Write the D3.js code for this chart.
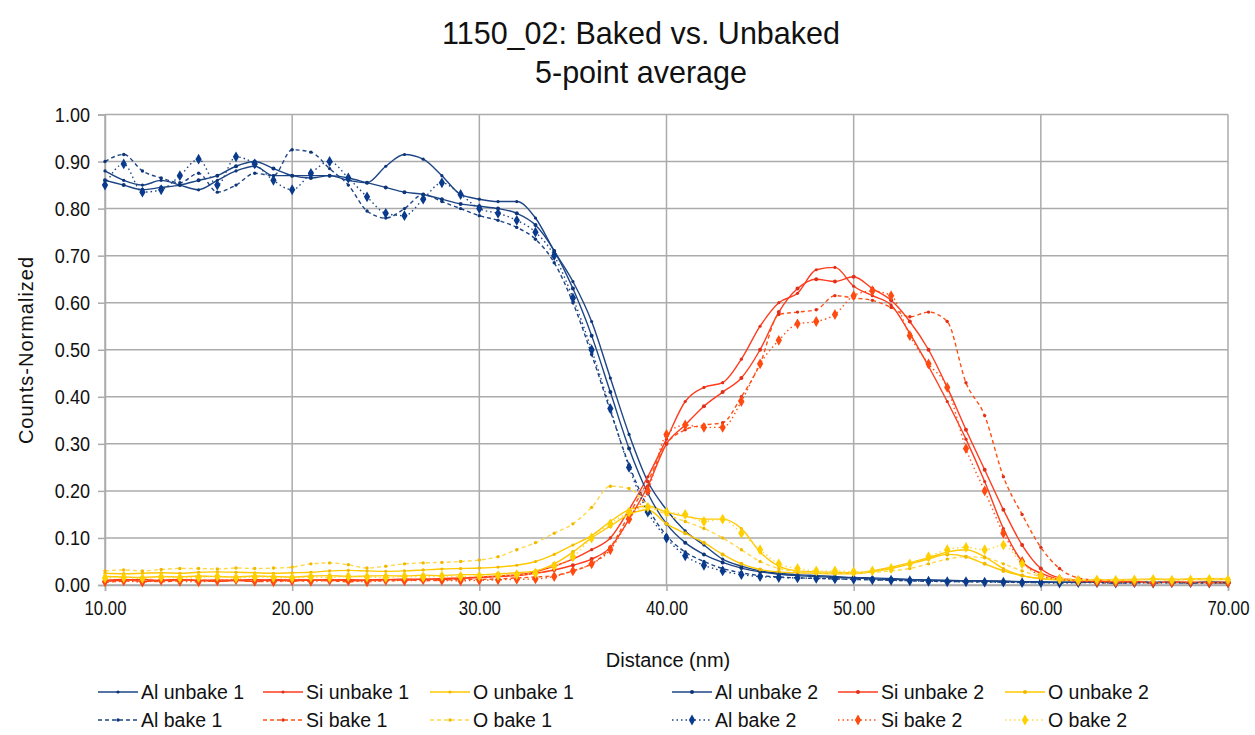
<!DOCTYPE html>
<html><head><meta charset="utf-8">
<script src="https://cdn.jsdelivr.net/npm/d3@7"></script>
<style>
body{margin:0;background:#fff}
text{font-family:"Liberation Sans",Arial,sans-serif;fill:#111}
</style>
</head><body>
<svg id="c" width="1255" height="735"></svg>
<script>
// ---------- DATA ----------
const distance = [10,11,12,13,14,15,16,17,18,19,20,21,22,23,24,25,26,27,28,29,30,31,32,33,34,35,36,37,38,39,40,41,42,43,44,45,46,47,48,49,50,51,52,53,54,55,56,57,58,59,60,61,62,63,64,65,66,67,68,69,70];

const alUnbake1 = [0.88,0.86,0.85,0.86,0.85,0.84,0.86,0.88,0.89,0.87,
  0.87,0.87,0.87,0.86,0.855,0.89,0.915,0.905,0.87,0.83,
  0.82,0.815,0.815,0.78,0.71,0.645,0.56,0.44,0.32,0.22,
  0.16,0.115,0.085,0.055,0.04,0.03,0.025,0.022,0.02,0.018,
  0.016,0.015,0.014,0.012,0.011,0.01,0.009,0.009,0.008,0.007,
  0.007,0.006,0.006,0.006,0.005,0.006,0.005,0.006,0.005,0.006,0.005];
const alUnbake2 = [0.86,0.85,0.84,0.845,0.85,0.86,0.87,0.89,0.90,0.885,
  0.87,0.865,0.87,0.865,0.855,0.845,0.835,0.83,0.82,0.81,
  0.805,0.80,0.79,0.765,0.71,0.63,0.53,0.41,0.29,0.195,
  0.13,0.09,0.065,0.048,0.036,0.028,0.023,0.02,0.018,0.016,
  0.015,0.013,0.012,0.011,0.01,0.009,0.009,0.008,0.008,0.007,
  0.006,0.006,0.005,0.006,0.005,0.005,0.006,0.005,0.005,0.006,0.005];
const alBake1 = [0.90,0.915,0.88,0.865,0.855,0.875,0.835,0.85,0.875,0.87,
  0.925,0.92,0.885,0.85,0.795,0.78,0.80,0.83,0.815,0.80,
  0.785,0.775,0.76,0.735,0.685,0.60,0.49,0.37,0.255,0.165,
  0.105,0.07,0.05,0.035,0.026,0.02,0.017,0.015,0.014,0.013,
  0.012,0.011,0.01,0.009,0.008,0.008,0.007,0.007,0.006,0.006,
  0.005,0.005,0.006,0.005,0.004,0.005,0.006,0.005,0.004,0.005,0.005];
const alBake2 = [0.85,0.895,0.835,0.84,0.87,0.905,0.85,0.91,0.895,0.86,
  0.84,0.875,0.90,0.865,0.825,0.79,0.785,0.82,0.855,0.83,
  0.80,0.79,0.775,0.75,0.70,0.61,0.50,0.375,0.25,0.155,
  0.10,0.062,0.042,0.03,0.022,0.018,0.016,0.015,0.014,0.013,
  0.012,0.011,0.01,0.009,0.008,0.007,0.007,0.006,0.006,0.005,
  0.005,0.004,0.005,0.005,0.004,0.005,0.004,0.005,0.005,0.004,0.005];

const siUnbake1 = [0.01,0.012,0.008,0.01,0.012,0.009,0.011,0.01,0.008,0.012,
  0.01,0.011,0.009,0.012,0.01,0.011,0.013,0.012,0.014,0.015,
  0.017,0.019,0.022,0.028,0.04,0.055,0.075,0.10,0.16,0.23,
  0.31,0.39,0.42,0.43,0.48,0.55,0.60,0.62,0.67,0.675,
  0.635,0.615,0.595,0.535,0.465,0.39,0.31,0.22,0.12,0.05,
  0.025,0.012,0.008,0.007,0.006,0.006,0.005,0.006,0.005,0.006,0.005];
const siUnbake2 = [0.008,0.01,0.012,0.009,0.011,0.01,0.008,0.01,0.012,0.009,
  0.011,0.01,0.012,0.009,0.011,0.012,0.01,0.013,0.012,0.014,
  0.016,0.018,0.02,0.025,0.032,0.042,0.055,0.08,0.14,0.21,
  0.30,0.34,0.38,0.41,0.44,0.50,0.58,0.63,0.65,0.645,
  0.655,0.63,0.605,0.56,0.50,0.42,0.33,0.245,0.16,0.085,
  0.035,0.015,0.01,0.008,0.006,0.007,0.005,0.006,0.006,0.005,0.006];
const siBake1 = [0.006,0.008,0.01,0.007,0.009,0.011,0.008,0.01,0.007,0.009,
  0.008,0.01,0.009,0.007,0.01,0.008,0.011,0.009,0.01,0.012,
  0.012,0.013,0.015,0.017,0.02,0.03,0.045,0.08,0.15,0.22,
  0.30,0.33,0.34,0.345,0.40,0.47,0.575,0.58,0.585,0.615,
  0.61,0.605,0.59,0.57,0.58,0.56,0.43,0.36,0.23,0.15,
  0.08,0.035,0.015,0.01,0.007,0.006,0.005,0.006,0.005,0.005,0.006];
const siBake2 = [0.007,0.009,0.006,0.01,0.008,0.007,0.009,0.011,0.008,0.007,
  0.009,0.008,0.01,0.009,0.007,0.01,0.009,0.011,0.01,0.009,
  0.01,0.011,0.012,0.013,0.018,0.03,0.045,0.075,0.14,0.20,
  0.32,0.34,0.335,0.335,0.39,0.47,0.52,0.555,0.56,0.575,
  0.615,0.625,0.615,0.53,0.47,0.42,0.29,0.20,0.11,0.05,
  0.02,0.012,0.008,0.006,0.005,0.006,0.005,0.005,0.006,0.005,0.005];

const oUnbake1 = [0.025,0.024,0.025,0.026,0.025,0.027,0.028,0.027,0.026,0.025,
  0.026,0.027,0.03,0.031,0.03,0.029,0.03,0.032,0.034,0.035,
  0.036,0.038,0.042,0.05,0.065,0.085,0.105,0.135,0.16,0.168,
  0.155,0.146,0.14,0.14,0.12,0.07,0.04,0.03,0.028,0.027,
  0.026,0.03,0.038,0.047,0.058,0.07,0.075,0.06,0.035,0.02,
  0.014,0.012,0.011,0.012,0.011,0.012,0.013,0.012,0.013,0.014,0.013];
const oUnbake2 = [0.018,0.017,0.016,0.018,0.017,0.019,0.018,0.017,0.019,0.018,
  0.017,0.019,0.02,0.018,0.019,0.02,0.019,0.021,0.02,0.022,
  0.022,0.024,0.026,0.03,0.045,0.07,0.10,0.125,0.15,0.16,
  0.13,0.11,0.09,0.065,0.045,0.033,0.028,0.026,0.025,0.024,
  0.024,0.028,0.035,0.045,0.055,0.065,0.06,0.045,0.03,0.02,
  0.013,0.011,0.01,0.011,0.01,0.011,0.012,0.011,0.012,0.011,0.012];
const oBake1 = [0.03,0.032,0.03,0.033,0.035,0.035,0.034,0.036,0.035,0.036,
  0.038,0.045,0.047,0.043,0.036,0.04,0.045,0.047,0.048,0.05,
  0.053,0.06,0.075,0.09,0.11,0.13,0.165,0.21,0.205,0.17,
  0.15,0.135,0.12,0.10,0.075,0.05,0.035,0.028,0.026,0.025,
  0.025,0.027,0.03,0.035,0.045,0.055,0.06,0.058,0.045,0.03,
  0.018,0.014,0.012,0.011,0.012,0.011,0.012,0.013,0.012,0.013,0.014];
const oBake2 = [0.015,0.016,0.014,0.017,0.015,0.016,0.018,0.015,0.017,0.016,
  0.015,0.017,0.016,0.018,0.017,0.016,0.018,0.017,0.019,0.018,
  0.019,0.02,0.022,0.025,0.04,0.06,0.10,0.13,0.155,0.165,
  0.155,0.15,0.135,0.14,0.11,0.075,0.045,0.035,0.03,0.03,
  0.028,0.03,0.035,0.045,0.06,0.075,0.08,0.075,0.085,0.045,
  0.02,0.012,0.01,0.011,0.01,0.011,0.012,0.01,0.011,0.012,0.011];

const xTicks = [10,20,30,40,50,60,70];
const yTicks = [0,0.1,0.2,0.3,0.4,0.5,0.6,0.7,0.8,0.9,1.0];
const titleLines = ["1150_02: Baked vs. Unbaked", "5-point average"];

// ---------- STYLE ----------
const C = {
  al: "#1d4585", alMark: "#0d3578", alDia: "#0a3a8c",
  si: "#ff3c1e", siMark: "#e0301a", siBake: "#ff5014", siDia: "#ff4a10",
  o: "#ffc800", oMark: "#f0b800", oBake: "#ffd84a", oDia: "#ffd000"
};
const series = [
  {name:"Al unbake 1", v:alUnbake1, stroke:C.al, dash:null, marker:"dot", mc:C.alMark, r:1.6},
  {name:"Si unbake 1", v:siUnbake1, stroke:C.si, dash:null, marker:"dot", mc:C.siMark, r:1.6},
  {name:"O unbake 1",  v:oUnbake1,  stroke:C.o,  dash:null, marker:"dot", mc:C.oMark, r:1.6},
  {name:"Al unbake 2", v:alUnbake2, stroke:C.al, dash:null, marker:"dot", mc:C.alMark, r:2.0},
  {name:"Si unbake 2", v:siUnbake2, stroke:C.si, dash:null, marker:"dot", mc:C.siMark, r:2.0},
  {name:"O unbake 2",  v:oUnbake2,  stroke:C.o,  dash:null, marker:"dot", mc:C.oMark, r:2.0},
  {name:"Al bake 1",   v:alBake1,   stroke:C.al, dash:"4,3", marker:"dot", mc:C.alMark, r:1.7},
  {name:"Si bake 1",   v:siBake1,   stroke:C.siBake, dash:"4,3", marker:"dot", mc:C.siMark, r:1.7},
  {name:"O bake 1",    v:oBake1,    stroke:C.oBake, dash:"4,3", marker:"dot", mc:C.oMark, r:1.7},
  {name:"Al bake 2",   v:alBake2,   stroke:C.al, dash:"1.5,3", marker:"diamond", mc:C.alDia, r:0},
  {name:"Si bake 2",   v:siBake2,   stroke:C.siBake, dash:"1.5,3", marker:"diamond", mc:C.siDia, r:0},
  {name:"O bake 2",    v:oBake2,    stroke:C.oBake, dash:"1.5,3", marker:"diamond", mc:C.oDia, r:0}
];

// ---------- CHART ----------
const svg = d3.select("#c");
const x = d3.scaleLinear().domain([10,70]).range([105,1228]);
const y = d3.scaleLinear().domain([0,1]).range([585,114.5]);
const grid = "#ababab";

// title
svg.selectAll("text.title").data(titleLines).join("text")
  .attr("x", 641).attr("y", (d,i)=> 44 + i*39)
  .attr("text-anchor","middle").attr("font-size", 30.5).text(d=>d);

// gridlines
svg.append("g").selectAll("line").data(yTicks).join("line")
  .attr("x1", x(10)).attr("x2", x(70)).attr("y1", d=>y(d)).attr("y2", d=>y(d))
  .attr("stroke", grid).attr("stroke-width", 1.5);
svg.append("g").selectAll("line").data(xTicks).join("line")
  .attr("x1", d=>x(d)).attr("x2", d=>x(d)).attr("y1", y(0)).attr("y2", y(1))
  .attr("stroke", grid).attr("stroke-width", 1.5);

// axes
const yAxis = svg.append("g").attr("transform", `translate(${x(10)},0)`)
  .call(d3.axisLeft(y).tickValues(yTicks).tickFormat(d3.format(".2f")).tickSize(7).tickPadding(8));
const xAxis = svg.append("g").attr("transform", `translate(0,${y(0)})`)
  .call(d3.axisBottom(x).tickValues(xTicks).tickFormat(d3.format(".2f")).tickSize(6).tickPadding(9));
[yAxis, xAxis].forEach(a => {
  a.select(".domain").attr("stroke", grid).attr("stroke-width", 1.5);
  a.selectAll(".tick line").attr("stroke", grid).attr("stroke-width", 1.5);
  a.selectAll("text").attr("fill", "#111");
});
yAxis.selectAll("text").attr("font-size", 21).attr("x", -15 / 0.86).attr("transform", "scale(0.86,1)");
xAxis.selectAll("text").attr("font-size", 21).attr("transform", "scale(0.8,1)");

// axis titles
svg.append("text").attr("x", 668).attr("y", 667).attr("text-anchor","middle")
  .attr("font-size", 20).text("Distance (nm)");
svg.append("text").attr("transform", "translate(33,350) rotate(-90)").attr("text-anchor","middle")
  .attr("font-size", 20).attr("letter-spacing", 1).text("Counts-Normalized");

// series
const line = d3.line().x((d,i)=>x(distance[i])).y(d=>y(d)).curve(d3.curveMonotoneX);
const plot = svg.append("g");
const diamond = d3.symbol().type(d3.symbolDiamond).size(34);
series.forEach(s => {
  const g = plot.append("g");
  g.append("path").attr("d", line(s.v)).attr("fill","none")
    .attr("stroke", s.stroke).attr("stroke-width", 1.4)
    .attr("stroke-dasharray", s.dash);
  if (s.marker === "dot") {
    g.selectAll("circle").data(s.v).join("circle")
      .attr("cx", (d,i)=>x(distance[i])).attr("cy", d=>y(d)).attr("r", s.r).attr("fill", s.mc);
  } else {
    g.selectAll("path.m").data(s.v).join("path").attr("class","m")
      .attr("d", diamond).attr("transform", (d,i)=>`translate(${x(distance[i])},${y(d)})`)
      .attr("fill", s.mc);
  }
});

// legend
const colX = [98, 263, 430, 672, 838, 1005];
const rowY = [692, 720];
const leg = svg.append("g");
series.forEach((s, k) => {
  const cx = colX[k % 6], cy = rowY[Math.floor(k / 6)];
  const g = leg.append("g").attr("transform", `translate(${cx},${cy})`);
  g.append("line").attr("x1", 0).attr("x2", 40).attr("y1", 0).attr("y2", 0)
    .attr("stroke", s.stroke).attr("stroke-width", 1.6).attr("stroke-dasharray", s.dash);
  if (s.marker === "dot") g.append("circle").attr("cx", 20).attr("r", s.r).attr("fill", s.mc);
  else g.append("path").attr("d", diamond).attr("transform", "translate(20,0)").attr("fill", s.mc);
  g.append("text").attr("x", 43).attr("y", 7).attr("font-size", 19.5).text(s.name);
});
</script>
</body></html>
